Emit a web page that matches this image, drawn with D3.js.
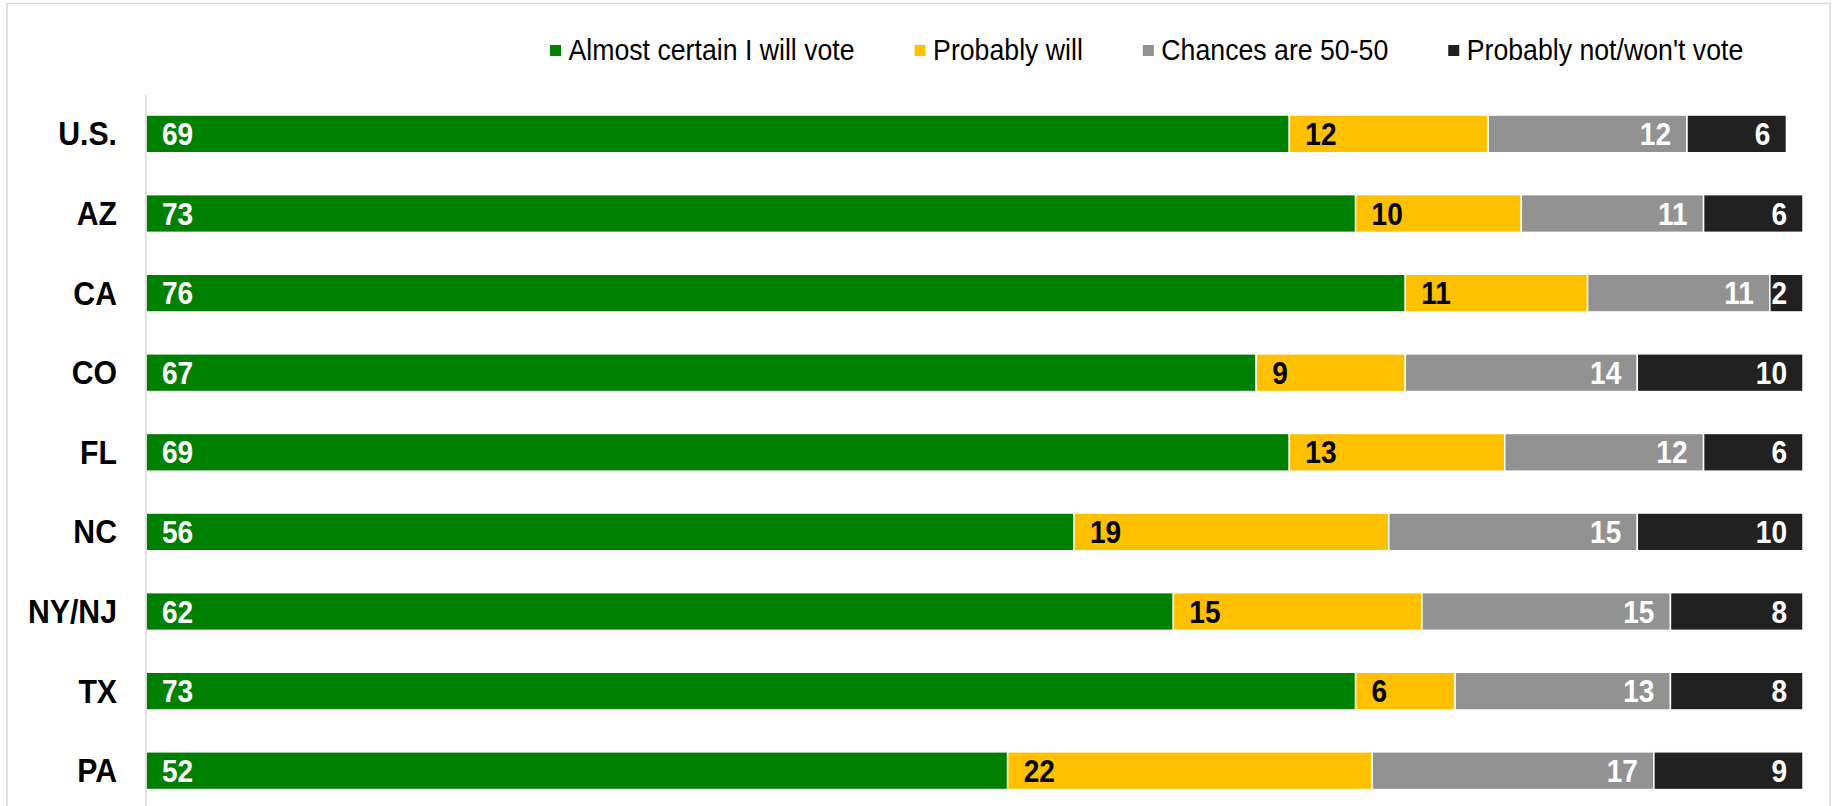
<!DOCTYPE html>
<html lang="en">
  <head>
      <meta charset="utf-8">
      <title>Likelihood of voting</title>
      <script type="text/javascript" src="https://cdn.jsdelivr.net/npm/d3@7"></script>
      <style>
        body { margin: 0; background: #fff; }
        text { font-family: "Liberation Sans", Arial, sans-serif; }
      </style>
  </head>
  <body>
      <script type="text/javascript">

      // data
      var regions = ["U.S.", "AZ", "CA", "CO", "FL", "NC", "NY/NJ", "TX", "PA"];
      var seriesNames = ["Almost certain I will vote", "Probably will", "Chances are 50-50", "Probably not/won't vote"];
      var almostCertain = [69, 73, 76, 67, 69, 56, 62, 73, 52];
      var probablyWill = [12, 10, 11, 9, 13, 19, 15, 6, 22];
      var fiftyFifty = [12, 11, 11, 14, 12, 15, 15, 13, 17];
      var probablyNot = [6, 6, 2, 10, 6, 10, 8, 8, 9];

      var colors = ["#008000", "#ffc000", "#929292", "#212121"];
      var labelColors = ["#fff", "#000", "#fff", "#fff"];

      var w = 1835;
      var h = 806;

      var svg = d3.select("body").append("svg").attr("width", w).attr("height", h);

      // the reference text is a bit narrow, so squeeze it horizontally
      function place(sel, px, py, sx) {
        return sel.attr("transform", "translate(" + px + "," + py + ") scale(" + sx + ",1)");
      }

      // frame
      svg.append("rect").attr("x", 7).attr("y", 3.5).attr("width", 1823).attr("height", 820)
        .attr("fill", "none").attr("stroke", "#d9d9d9").attr("stroke-width", 1.5);

      var x = d3.scaleLinear().domain([0, 100]).range([146, 1803]);
      var y = d3.scaleBand().domain(regions).range([94.1, 810.5]).paddingInner(0.526).paddingOuter(0.263);

      // stack the series
      var rows = regions.map(function(r, i) {
        return { region: r, a: almostCertain[i], b: probablyWill[i], c: fiftyFifty[i], d: probablyNot[i] };
      });
      var stack = d3.stack().keys(["a", "b", "c", "d"])(rows);

      var layers = svg.selectAll("g.layer").data(stack).enter().append("g").attr("class", "layer")
        .attr("fill", function(d, i) { return colors[i]; });

      layers.selectAll("rect").data(function(d) { return d; }).enter().append("rect")
        .attr("x", function(d) { return x(d[0]); })
        .attr("y", function(d) { return y(d.data.region); })
        .attr("width", function(d) { return x(d[1]) - x(d[0]); })
        .attr("height", y.bandwidth())
        .attr("stroke", "#fff").attr("stroke-width", 1.5);

      // value labels
      layers.each(function(layer, li) {
        d3.select(this).selectAll("text").data(layer).enter().append("text")
          .text(function(d) { return d[1] - d[0]; })
          .attr("text-anchor", li < 2 ? "start" : "end")
          .attr("fill", labelColors[li])
          .attr("font-size", "30.5px").attr("font-weight", "bold")
          .each(function(d) {
            var px = li < 2 ? x(d[0]) + 16 : x(d[1]) - 16;
            place(d3.select(this), px, y(d.data.region) + y.bandwidth() / 2 + 11, 0.92);
          });
      });

      // category axis
      svg.append("line").attr("x1", x(0)).attr("x2", x(0)).attr("y1", 95).attr("y2", h)
        .attr("stroke", "#d9d9d9").attr("stroke-width", 1.5);

      svg.selectAll("text.cat").data(regions).enter().append("text").attr("class", "cat")
        .text(function(d) { return d; })
        .attr("text-anchor", "end")
        .attr("font-size", "32.5px").attr("font-weight", "bold").attr("fill", "#000")
        .each(function(d) {
          place(d3.select(this), 117, y(d) + y.bandwidth() / 2 + 11.5, 0.93);
        });

      // legend
      var lx = 550;
      var lsx = 0.92;
      seriesNames.forEach(function(name, i) {
        svg.append("rect").attr("x", lx).attr("y", 45).attr("width", 11).attr("height", 11).attr("fill", colors[i]);
        var t = svg.append("text").text(name).attr("font-size", "29px").attr("fill", "#000");
        place(t, lx + 18.5, 60, lsx);
        lx = lx + 18.5 + t.node().getComputedTextLength() * lsx + 60;
      });

      </script>
  </body>
</html>
